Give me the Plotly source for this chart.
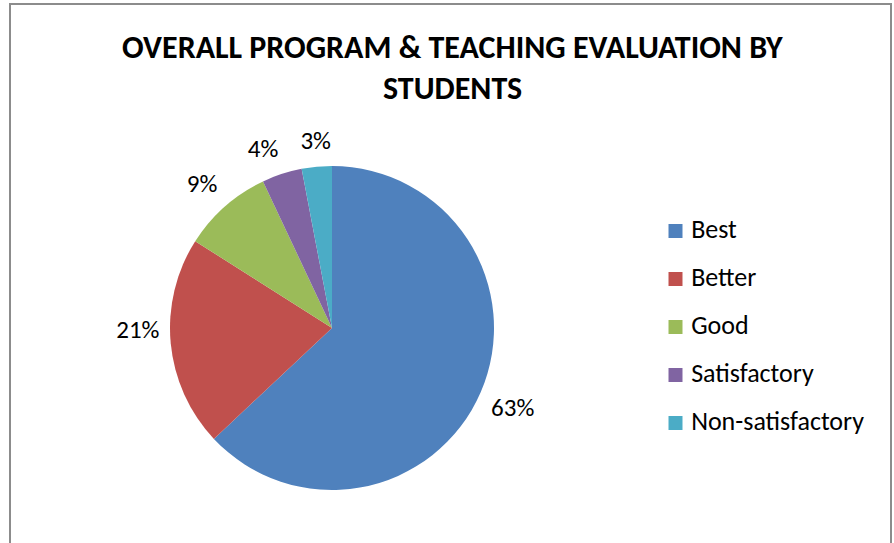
import math
import plotly.graph_objects as go

categories = ["Best", "Better", "Good", "Satisfactory", "Non-satisfactory"]
values = [63, 21, 9, 4, 3]
colors = ["#4F81BD", "#C0504D", "#9BBB59", "#8064A2", "#4BACC6"]
title_lines = ["OVERALL PROGRAM & TEACHING EVALUATION BY", "STUDENTS"]

W, H = 894, 543
FONT = "Carlito, Calibri, 'Open Sans', sans-serif"

# pie centred at (332, 328), radius 162 px
cx, cy, r = 332, 328, 162
dom = dict(x=[(cx - r) / W, (cx + r) / W], y=[(H - cy - r) / H, (H - cy + r) / H])

fig = go.Figure()
fig.add_trace(go.Pie(
    labels=categories, values=values, sort=False, direction="clockwise", rotation=0,
    marker=dict(colors=colors, line=dict(width=0)),
    textinfo="none", domain=dom, showlegend=False, hoverinfo="label+percent",
))

# percentage labels just outside each slice's mid-angle point ("best fit"),
# on a hidden polar axis whose unit radius equals the pie radius
RMAX = 1.3
R2 = r * RMAX
pdom = dict(x=[(cx - R2) / W, (cx + R2) / W], y=[(H - cy - R2) / H, (H - cy + R2) / H])
total = sum(values)
mid_angles, pct_text, positions, acc = [], [], [], 0
for v in values:
    a = 360 * (acc + v / 2) / total
    mid_angles.append(a)
    pct_text.append("%d%%" % round(100 * v / total))
    sx, sy = math.sin(math.radians(a)), -math.cos(math.radians(a))  # screen dir
    vert = "bottom" if sy > 0.15 else "top"
    horiz = "left" if sx < -0.2 else ("right" if sx > 0.2 else "center")
    positions.append("%s %s" % (vert, horiz))
    acc += v
fig.add_trace(go.Scatterpolar(
    r=[1.07] * len(values), theta=mid_angles, mode="text", text=pct_text,
    textposition=positions,
    textfont=dict(family=FONT, size=25, color="black"),
    cliponaxis=False, showlegend=False, hoverinfo="skip", subplot="polar",
))

# legend drawn as a scatter on a hidden axis
fig.add_trace(go.Scatter(
    x=[0] * len(categories), y=list(range(len(categories))),
    mode="markers+text", text=categories, texttemplate="\u00a0%{text}",
    textposition="middle right",
    marker=dict(symbol="square", size=14, color=colors),
    textfont=dict(family=FONT, size=26, color="black"),
    cliponaxis=False, showlegend=False, hoverinfo="skip",
    xaxis="x", yaxis="y",
))

ly_center, ly_step = 327, 48
fig.update_layout(
    width=W, height=H, margin=dict(l=0, r=0, t=0, b=0),
    paper_bgcolor="white", plot_bgcolor="rgba(0,0,0,0)",
    polar=dict(domain=pdom, bgcolor="rgba(0,0,0,0)",
               radialaxis=dict(range=[0, RMAX], visible=False),
               angularaxis=dict(rotation=90, direction="clockwise", visible=False)),
    xaxis=dict(domain=[675.5 / W, 1], range=[0, 1], visible=False, fixedrange=True),
    yaxis=dict(domain=[(H - ly_center - 2.5 * ly_step) / H, (H - ly_center + 2.5 * ly_step) / H],
               range=[4.5, -0.5], visible=False, fixedrange=True),
    showlegend=False,
    shapes=[dict(type="rect", xref="paper", yref="paper",
                 x0=10 / W, x1=891 / W, y0=-0.05, y1=(H - 4) / H,
                 line=dict(color="#8C8C8C", width=2), fillcolor="rgba(0,0,0,0)")],
    annotations=[
        dict(text="<b>%s</b>" % title_lines[0], x=452 / W, y=(H - 47) / H, xref="paper", yref="paper",
             showarrow=False, xanchor="center", yanchor="middle",
             font=dict(family=FONT, size=32, color="black")),
        dict(text="<b>%s</b>" % title_lines[1], x=452 / W, y=(H - 88) / H, xref="paper", yref="paper",
             showarrow=False, xanchor="center", yanchor="middle",
             font=dict(family=FONT, size=32, color="black")),
    ],
)

fig.write_html("out.html", config={"displayModeBar": False},
               post_script="document.body.style.margin='0';")
